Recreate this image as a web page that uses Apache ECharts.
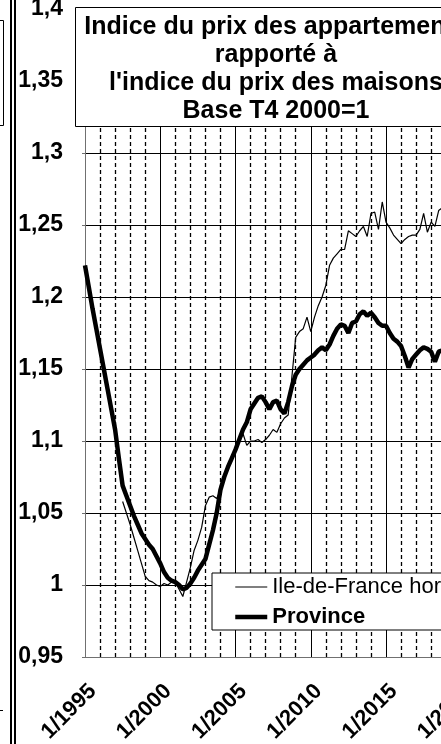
<!DOCTYPE html>
<html>
<head>
<meta charset="utf-8">
<script src="https://cdn.jsdelivr.net/npm/echarts@6/dist/echarts.min.js"></script>
<style>
html,body{margin:0;padding:0;background:#fff;}
#c{width:441px;height:744px;}
</style>
</head>
<body>
<div id="c"></div>
<script>
// ---- data (quarterly values, first value = first quarter of start year) ----
const titleLines = ["Indice du prix des appartements", "rapporté à", "l'indice du prix des maisons", "Base T4 2000=1"];
const seriesNames = ["Ile-de-France hors Paris", "Province"];
const provinceStart = 1995.0;
const province = [
  1.222, 1.207, 1.192, 1.178,
  1.164, 1.150, 1.136, 1.122,
  1.108, 1.088, 1.069, 1.062,
  1.055, 1.048, 1.042, 1.036,
  1.032, 1.028, 1.025, 1.020,
  1.015, 1.009, 1.005, 1.003,
  1.002, 1.000, 0.997, 0.998,
  1.001, 1.005, 1.010, 1.014,
  1.018, 1.028, 1.038, 1.050,
  1.066, 1.075, 1.082, 1.088,
  1.094, 1.101, 1.108, 1.113,
  1.122, 1.126, 1.130, 1.131,
  1.127, 1.122, 1.127, 1.128,
  1.122, 1.119, 1.127, 1.138,
  1.146, 1.150, 1.153, 1.156,
  1.158, 1.160, 1.163, 1.165,
  1.163, 1.167, 1.173, 1.178,
  1.181, 1.180, 1.175, 1.182,
  1.183, 1.188, 1.190, 1.187,
  1.189, 1.186, 1.182, 1.180,
  1.180, 1.175, 1.171, 1.169,
  1.166, 1.159, 1.151, 1.157,
  1.160, 1.163, 1.165, 1.164,
  1.162, 1.155, 1.162, 1.163,
  1.164
];
const idfStart = 1997.5;
const idf = [
  1.058, 1.050,
  1.042, 1.033, 1.024, 1.015,
  1.006, 1.003, 1.002, 1.000,
  0.999, 1.001, 1.000, 1.002,
  1.002, 0.997, 0.992, 1.002,
  1.012, 1.024, 1.031, 1.040,
  1.055, 1.061, 1.062, 1.060,
  1.066, 1.076, 1.083, 1.089,
  1.094, 1.099, 1.105, 1.097,
  1.100, 1.100, 1.101, 1.099,
  1.101, 1.104, 1.108, 1.106,
  1.112, 1.116, 1.118, 1.145,
  1.172, 1.176, 1.178, 1.186,
  1.176, 1.186, 1.194, 1.200,
  1.208, 1.222, 1.227, 1.230,
  1.233, 1.233, 1.246, 1.244,
  1.242, 1.246, 1.249, 1.242,
  1.258, 1.259, 1.247, 1.266,
  1.252, 1.248, 1.243, 1.240,
  1.237, 1.240, 1.242, 1.243,
  1.243, 1.247, 1.258, 1.245,
  1.252, 1.249, 1.260, 1.262,
  1.263
];
const yTicks = { min: 0.95, max: 1.4, interval: 0.05 };
const xTicks = { min: 1995, max: 2025, interval: 5 };

// ---- chart ----
const FF = "'Liberation Sans', Arial, sans-serif";
const toPairs = (start, arr) => arr.map((v, i) => [start + i * 0.25, v]);
const chart = echarts.init(document.getElementById('c'), null, { renderer: 'canvas' });
chart.setOption({
  backgroundColor: '#fff',
  animation: false,
  grid: { left: 85, top: 9, width: 451.5, height: 648, containLabel: false, outerBoundsMode: 'none' },
  xAxis: {
    type: 'value', min: xTicks.min, max: xTicks.max, interval: xTicks.interval,
    axisLine: { show: true, lineStyle: { color: '#707070', width: 1 } },
    axisTick: { show: false },
    minorTick: { show: false, splitNumber: 5 },
    splitLine: { show: true, lineStyle: { color: '#000', width: 1 } },
    minorSplitLine: { show: true, lineStyle: { color: '#000', width: 1.3, type: [4, 3] } },
    axisLabel: {
      rotate: 45, margin: 23, align: 'right', verticalAlign: 'top',
      fontSize: 22, fontWeight: 'bold', fontFamily: FF, color: '#000',
      formatter: v => '1/' + v
    }
  },
  yAxis: {
    type: 'value', min: yTicks.min, max: yTicks.max, interval: yTicks.interval,
    axisLine: { show: true, lineStyle: { color: '#707070', width: 1 } },
    axisTick: { show: true, length: 3, lineStyle: { color: '#707070' } },
    splitLine: { show: true, lineStyle: { color: '#000', width: 1 } },
    axisLabel: {
      margin: 22, fontSize: 23, fontWeight: 'bold', fontFamily: FF, color: '#000',
      padding: [4, 0, 0, 0],
      formatter: v => String(+v.toFixed(2)).replace('.', ',')
    }
  },
  legend: {
    orient: 'vertical', left: 212, top: 573,
    padding: [1, 10, 0, 21], itemWidth: 32, itemHeight: 14, itemGap: 4,
    backgroundColor: '#fff', borderColor: '#000', borderWidth: 1, borderRadius: 0,
    selectedMode: false,
    itemStyle: { opacity: 0 },
    textStyle: { fontSize: 22, lineHeight: 26, fontFamily: FF, color: '#000' },
    data: [
      { name: seriesNames[0], textStyle: { fontWeight: 'normal' }, lineStyle: { width: 1.2, color: '#000' } },
      { name: seriesNames[1], textStyle: { fontWeight: 'bold' }, lineStyle: { width: 4.5, color: '#000' } }
    ]
  },
  series: [
    {
      name: seriesNames[0], type: 'line', data: toPairs(idfStart, idf),
      symbol: 'none', showSymbol: false, z: 3,
      lineStyle: { color: '#000', width: 1.2 }, itemStyle: { color: '#000' }
    },
    {
      name: seriesNames[1], type: 'line', data: toPairs(provinceStart, province),
      symbol: 'none', showSymbol: false, z: 4,
      lineStyle: { color: '#000', width: 4.5 }, itemStyle: { color: '#000' }
    }
  ],
  graphic: [
    { type: 'rect', z: 100, shape: { x: 75.5, y: 7.5, width: 402, height: 119 },
      style: { fill: '#fff', stroke: '#000', lineWidth: 1 } },
    { type: 'text', z: 101, x: 276, y: 13,
      style: { text: titleLines.join('\n'), font: "bold 25px 'Liberation Sans', Arial, sans-serif",
               textAlign: 'center', textVerticalAlign: 'top', lineHeight: 28, fill: '#000' } },
    { type: 'rect', z: 100, shape: { x: 10, y: 0, width: 2, height: 744 }, style: { fill: '#000' } },
    { type: 'rect', z: 100, shape: { x: 14, y: 0, width: 2, height: 744 }, style: { fill: '#000' } },
    { type: 'polyline', z: 100, shape: { points: [[-2, 20.5], [3.5, 20.5], [3.5, 125.5], [-2, 125.5]] },
      style: { stroke: '#000', lineWidth: 1, fill: null } },
    { type: 'line', z: 100, shape: { x1: 0, y1: 710.5, x2: 3, y2: 710.5 }, style: { stroke: '#000', lineWidth: 1 } }
  ]
});
</script>
</body>
</html>
